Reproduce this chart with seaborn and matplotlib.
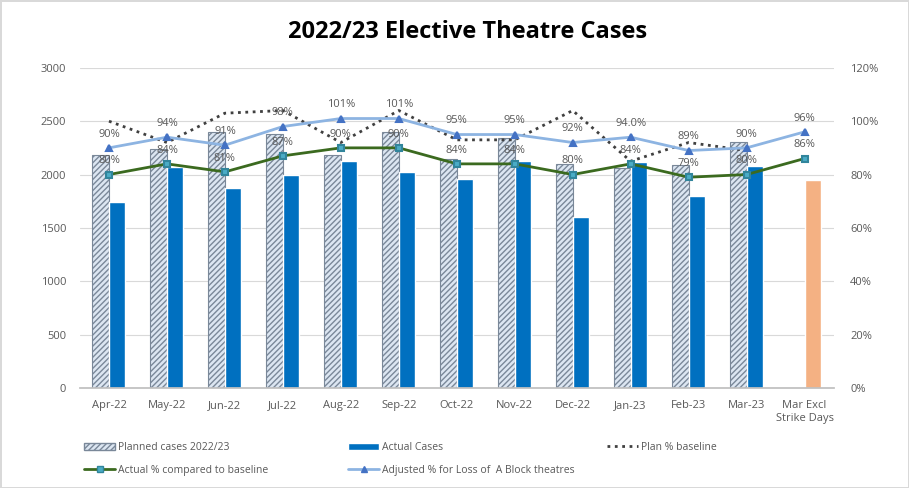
import numpy as np
import pandas as pd
import matplotlib.pyplot as plt
import seaborn as sns
from matplotlib.patches import Patch
from matplotlib.lines import Line2D
from matplotlib.ticker import PercentFormatter

sns.set_theme(style="white")
plt.rcParams['font.family'] = ['Open Sans', 'DejaVu Sans']

# Data
months = ['Apr-22', 'May-22', 'Jun-22', 'Jul-22', 'Aug-22', 'Sep-22', 'Oct-22',
          'Nov-22', 'Dec-22', 'Jan-23', 'Feb-23', 'Mar-23', 'Mar Excl\nStrike Days']
planned = [2180, 2240, 2400, 2380, 2180, 2395, 2145, 2340, 2095, 2065, 2090, 2305, np.nan]
actual = [1740, 2075, 1870, 1995, 2130, 2025, 1955, 2130, 1600, 2115, 1800, 2080, 1950]
plan_pct = [100, 92, 103, 104, 92, 104, 93, 93, 104, 85, 92, 89, np.nan]
actual_pct = [80, 84, 81, 87, 90, 90, 84, 84, 80, 84, 79, 80, 86]
adjusted_pct = [90, 94, 91, 98, 101, 101, 95, 95, 92, 94, 89, 90, 96]
actual_lbls = ['80%', '84%', '81%', '87%', '90%', '90%', '84%', '84%', '80%', '84%', '79%', '80%', '86%']
adjusted_lbls = ['90%', '94%', '91%', '98%', '101%', '101%', '95%', '95%', '92%', '94.0%', '89%', '90%', '96%']

bars = pd.DataFrame({
    'month': months * 2,
    'cases': planned + actual,
    'series': ['Planned cases 2022/23'] * len(months) + ['Actual Cases'] * len(months),
})
pct = pd.DataFrame({'month': months, 'plan': plan_pct, 'actual': actual_pct, 'adjusted': adjusted_pct})

fig = plt.figure(figsize=(9.09, 4.88), dpi=100)
ax = fig.add_axes([0.088, 0.205, 0.829, 0.656])

sns.barplot(data=bars, x='month', y='cases', hue='series', order=months,
            hue_order=['Planned cases 2022/23', 'Actual Cases'],
            palette=['#dce6f2', '#0070c0'], saturation=1, width=0.57, gap=0,
            legend=False, ax=ax)

# style bars: hatched planned, orange strike-excl bar
for bar in ax.containers[0]:
    bar.set_hatch('//////')
    bar.set_edgecolor('#7a8899')
    bar.set_linewidth(0.8)
last = max(ax.containers[1], key=lambda b: b.get_x())
last.set_facecolor('#f4b183')

ax.set_ylim(0, 3000)
ax.set_yticks(range(0, 3001, 500))
ax.yaxis.grid(True, color='#d9d9d9', linewidth=0.8)
ax.set_axisbelow(True)
ax.set_xlabel('')
ax.set_ylabel('')
for s in ['top', 'right', 'left']:
    ax.spines[s].set_visible(False)
ax.spines['bottom'].set_color('#bfbfbf')
ax.tick_params(axis='both', labelsize=8, labelcolor='#595959', length=0)
ax.tick_params(axis='x', pad=9)
ax.tick_params(axis='y', pad=10)

ax2 = ax.twinx()
sns.pointplot(data=pct, x='month', y='plan', order=months, color='#404040', markers='',
              linestyles=':', linewidth=2, errorbar=None, ax=ax2)
sns.pointplot(data=pct, x='month', y='adjusted', order=months, color='#8db4e2', markers='^',
              linestyles='-', linewidth=2, markersize=4, markerfacecolor='#4472c4',
              markeredgecolor='#4472c4', errorbar=None, ax=ax2)
sns.pointplot(data=pct, x='month', y='actual', order=months, color='#3b6a1f', markers='s',
              linestyles='-', linewidth=2, markersize=5, markerfacecolor='#4bacc6',
              markeredgecolor='#31859c', errorbar=None, ax=ax2)

for i in range(len(months)):
    ax2.annotate(adjusted_lbls[i], (i, adjusted_pct[i]), xytext=(0, 6), textcoords='offset points',
                 ha='center', va='bottom', fontsize=8, color='#595959')
    ax2.annotate(actual_lbls[i], (i, actual_pct[i]), xytext=(0, 6), textcoords='offset points',
                 ha='center', va='bottom', fontsize=8, color='#595959')

ax2.set_ylim(0, 120)
ax2.set_yticks(range(0, 121, 20))
ax2.yaxis.set_major_formatter(PercentFormatter(100, decimals=0))
ax2.set_ylabel('')
ax2.set_xlabel('')
for s in ['top', 'right', 'left', 'bottom']:
    ax2.spines[s].set_visible(False)
ax2.tick_params(axis='y', labelsize=8, labelcolor='#595959', length=0, pad=12)
ax.set_xlim(-0.5, len(months) - 0.5)

fig.text(0.514, 0.934, '2022/23 Elective Theatre Cases', ha='center', va='center',
         fontsize=17, fontweight='bold', color='#000000')

# legend: three fixed-width columns like Excel
planned_h = Patch(facecolor='#dce6f2', edgecolor='#7a8899', hatch='//////', label='Planned cases 2022/23')
actual_h = Patch(facecolor='#0070c0', label='Actual Cases')
base_h = Line2D([], [], color='#404040', lw=2, linestyle=':', label='Plan % baseline')
actpct_h = Line2D([], [], color='#3b6a1f', lw=2, marker='s', markersize=5, markerfacecolor='#4bacc6',
                  markeredgecolor='#31859c', label='Actual % compared to baseline')
adj_h = Line2D([], [], color='#8db4e2', lw=2, marker='^', markersize=4, markerfacecolor='#4472c4',
               markeredgecolor='#4472c4', label='Adjusted % for Loss of  A Block theatres')

leg_kw = dict(loc='upper left', frameon=False, fontsize=7.5, labelcolor='#595959',
              handlelength=3, handletextpad=0.3, labelspacing=1.15, borderaxespad=0, borderpad=0)
for x0, hs in [(84, [planned_h, actpct_h]), (348, [actual_h, adj_h]), (607, [base_h])]:
    fig.legend(handles=hs, bbox_to_anchor=(x0 / 909, 1 - 442 / 488), **leg_kw)

fig.patch.set_edgecolor('#d9d9d9')
fig.patch.set_linewidth(1)

plt.savefig('out.png', dpi=100)
plt.close()
